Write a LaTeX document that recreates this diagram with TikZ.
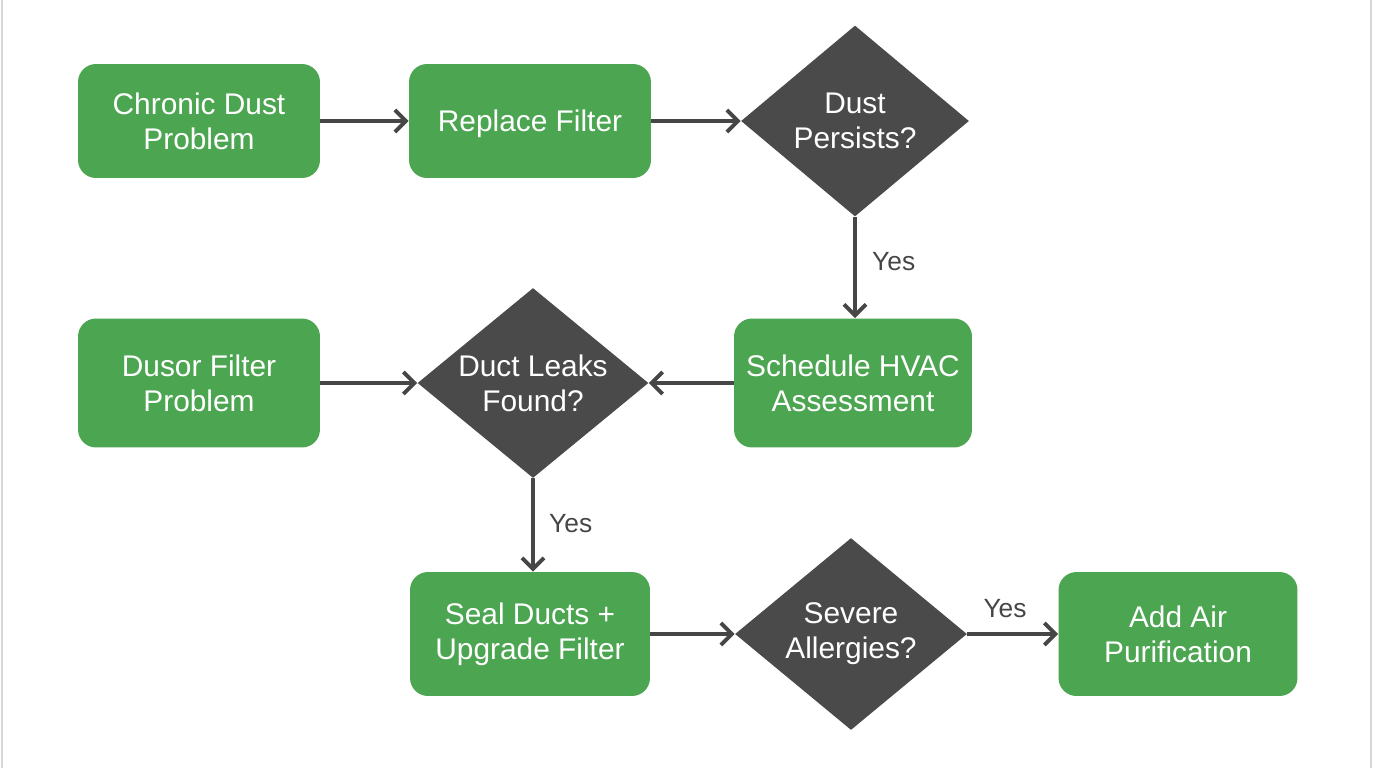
\documentclass[tikz,border=0pt]{standalone}
\usepackage{fontspec}
\setmainfont{Liberation Sans}
\usetikzlibrary{shapes.geometric,arrows.meta}
\definecolor{stepgreen}{RGB}{76,165,80}
\definecolor{askgrey}{RGB}{74,74,74}
\definecolor{linegrey}{RGB}{70,70,70}
\definecolor{framegrey}{RGB}{215,215,215}

\begin{document}
\begin{tikzpicture}
  [x=0.02cm,y=-0.02cm,
   every node/.style={font=\fontsize{17}{20}\selectfont},
   act/.style={rectangle,rounded corners=0.36cm,fill=stepgreen,text=white,align=center,minimum width=4.84cm},
   ask/.style={diamond,fill=askgrey,text=white,align=center,inner sep=-8pt},
   link/.style={draw=linegrey,line width=2.2pt,-{Straight Barb[length=0.22cm,width=0.44cm]}},
   tag/.style={text=linegrey,font=\fontsize{15}{18}\selectfont}]
  \useasboundingbox (0,0) rectangle (1376,768);
  \draw[framegrey,line width=1pt] (2,0) -- (2,768) (1371,0) -- (1371,768);

  \node[act,minimum height=2.28cm] (chronic) at (199,121) {Chronic Dust\\Problem};
  \node[act,minimum height=2.28cm,text depth=0pt] (replace) at (530,121) {Replace Filter};
  \node[ask,minimum width=4.56cm,minimum height=3.82cm] (persists) at (855,121) {Dust\\Persists?};
  \node[act,minimum width=4.76cm,minimum height=2.58cm] (hvac) at (853,383) {Schedule HVAC\\Assessment};
  \node[ask,minimum width=4.62cm,minimum height=3.8cm] (leaks) at (533,383) {Duct Leaks\\Found?};
  \node[act,minimum height=2.58cm] (dusor) at (199,383) {Dusor Filter\\Problem};
  \node[act,minimum width=4.8cm,minimum height=2.48cm] (seal) at (530,634) {Seal Ducts +\\Upgrade Filter};
  \node[ask,minimum width=4.64cm,minimum height=3.84cm] (allergy) at (851,634) {Severe\\Allergies?};
  \node[act,minimum width=4.78cm,minimum height=2.48cm] (purify) at (1178,634) {Add Air\\Purification};

  \node[tag,anchor=west] (yes1) at (866,262) {Yes};
  \node[tag,anchor=west] (yes2) at (543,524) {Yes};
  \node[tag] (yes3) at (1005,609) {Yes};

  \foreach \from/\to in {chronic/replace,replace/persists,hvac/leaks,dusor/leaks,seal/allergy,allergy/purify}
    \draw[link] (\from) -- (\to);
  \draw[link] (persists.south) -- (persists.south |- hvac.north);
  \draw[link] (leaks.south) -- (leaks.south |- seal.north);

\end{tikzpicture}
\end{document}
